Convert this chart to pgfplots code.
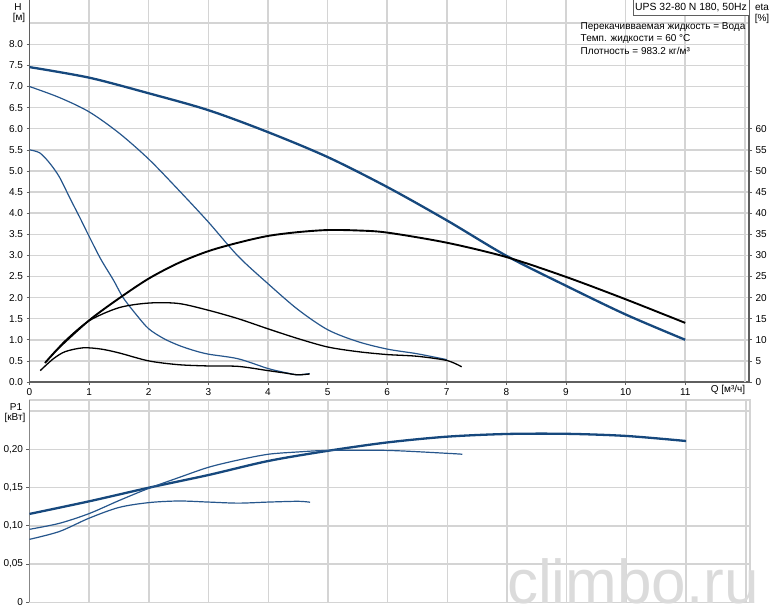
\documentclass[border=0pt]{standalone}
\usepackage{fontspec}
\setmainfont{Liberation Sans}
\usepackage{pgfplots}
\pgfplotsset{compat=1.18}

\definecolor{pumpblue}{RGB}{22,72,125}
\definecolor{thinblue}{RGB}{38,86,140}
\definecolor{gridgray}{RGB}{212,212,212}
\definecolor{spine}{RGB}{95,95,95}

\newcommand{\lbl}{\fontsize{10}{11}\selectfont}

\pgfplotsset{
  pump/.style={
    scale only axis,
    xmin=0, xmax=12.07,
    tick align=outside,
    major tick length=3pt,
    tick style={spine, line width=0.6pt},
    ticklabel style={font=\lbl},
    /pgf/number format/assume math mode=true,
    major grid style={gridgray, line width=1.5pt},
  },
}

\begin{document}
\begin{tikzpicture}
\path[use as bounding box] (0pt,0pt) rectangle (774pt,611pt);

% ---- H(Q) ----
\begin{axis}[pump,
  at={(29.5pt,229pt)}, anchor=south west,
  width=719.5pt, height=382pt,
  ymin=0, ymax=9.05,
  xtick={0,...,11}, extra x ticks={12}, extra x tick labels={},
  extra x tick style={grid=major, major tick length=0pt},
  ytick={0,0.5,...,8}, extra y ticks={8.5}, extra y tick labels={},
  extra y tick style={grid=major, major tick length=0pt},
  grid=major,
  axis x line*=bottom, axis y line*=left,
  axis line style={-, spine, line width=1.3pt},
  yticklabel style={/pgf/number format/.cd, fixed, fixed zerofill, precision=1},
]
\addplot[pumpblue, line width=2.3pt, smooth] coordinates {
  (0,7.46) (1,7.21) (2,6.84) (3,6.44) (4,5.92) (5,5.33) (6,4.62)
  (7,3.83) (8,2.99) (9,2.28) (10,1.60) (11,1.00)};
\addplot[thinblue, line width=1.2pt, smooth] coordinates {
  (0,7.00) (0.5,6.74) (1,6.40) (1.5,5.90) (2,5.28) (2.5,4.55) (3,3.79)
  (3.5,2.98) (4,2.33) (4.5,1.72) (5,1.24) (5.5,0.96) (6,0.78) (6.5,0.67) (7,0.53)};
\addplot[thinblue, line width=1.2pt, smooth] coordinates {
  (0,5.50) (0.17,5.43) (0.33,5.20) (0.5,4.86) (0.68,4.35) (0.85,3.88) (1,3.45)
  (1.2,2.90) (1.41,2.41) (1.57,2.00) (1.8,1.58) (2,1.26) (2.25,1.03) (2.5,0.87)
  (2.75,0.75) (3,0.66) (3.5,0.55) (4,0.32) (4.3,0.22) (4.5,0.17) (4.7,0.20)};
\end{axis}

% ---- eta(Q) ----
\begin{axis}[pump,
  at={(29.5pt,229pt)}, anchor=south west,
  width=719.5pt, height=382pt,
  ymin=0, ymax=90.5,
  axis x line=none, axis y line*=right,
  axis line style={-, spine, line width=1.3pt},
  ytick={0,5,...,60},
]
\addplot[black, line width=1.9pt, smooth] coordinates {
  (0.26,4.5) (0.5,8.2) (1,14.6) (1.5,19.8) (2,24.5) (2.5,28.2) (3,31.0)
  (3.5,33.0) (4,34.6) (4.5,35.5) (5,36.0) (5.5,35.9) (6,35.4) (7,33.0)
  (8,29.6) (9,24.9) (10,19.6) (11,14.0)};
\addplot[black, line width=1.3pt, smooth] coordinates {
  (0.36,6.0) (0.6,9.8) (1,14.5) (1.5,17.6) (2,18.7) (2.5,18.6) (3,17.0)
  (3.5,15.0) (4,12.6) (4.5,10.3) (5,8.3) (5.5,7.2) (6,6.5) (6.5,6.1)
  (7,5.1) (7.25,3.6)};
\addplot[black, line width=1.3pt, smooth] coordinates {
  (0.18,2.7) (0.4,5.5) (0.6,7.2) (0.9,8.1) (1.2,7.8) (1.5,6.9) (2,5.0)
  (2.5,4.1) (3,3.8) (3.5,3.7) (4,2.7) (4.3,2.1) (4.5,1.7) (4.7,1.9)};
\end{axis}

% ---- P1(Q) ----
\begin{axis}[pump,
  at={(29.5pt,8.7pt)}, anchor=south west,
  width=720.5pt, height=202.3pt,
  ymin=0, ymax=0.2644,
  xtick={0,...,12}, xticklabels={},
  x tick style={draw=none},
  ytick={0,0.05,0.10,0.15,0.20}, yticklabels={0,{0,05},{0,10},{0,15},{0,20}},
  extra y ticks={0.25}, extra y tick labels={},
  extra y tick style={grid=major, major tick length=0pt},
  ytick pos=left,
  grid=major,
  axis line style={gridgray, line width=1.3pt},
]
\draw[spine, line width=1.3pt] (rel axis cs:0,0) -- (rel axis cs:0,1);
\addplot[pumpblue, line width=2.3pt, smooth] coordinates {
  (0,0.1155) (1,0.132) (2,0.1498) (3,0.1664) (4,0.1847) (5,0.198) (6,0.209)
  (7,0.2165) (8,0.220) (9,0.2202) (10,0.2174) (11,0.2108)};
\addplot[thinblue, line width=1.2pt, smooth] coordinates {
  (0,0.0954) (0.5,0.1032) (1,0.116) (1.5,0.133) (2,0.149) (2.5,0.163) (3,0.1765)
  (3.5,0.186) (4,0.1935) (4.5,0.1965) (5,0.1985) (6,0.1985) (7,0.1947) (7.25,0.1935)};
\addplot[thinblue, line width=1.2pt, smooth] coordinates {
  (0,0.0823) (0.5,0.0925) (1,0.110) (1.5,0.124) (2,0.1303) (2.5,0.1324) (3,0.131)
  (3.5,0.1296) (4,0.131) (4.5,0.132) (4.7,0.1308)};
\end{axis}

% ---- labels ----
\node[font=\lbl] at (18pt,604pt) {H};
\node[font=\lbl] at (19pt,593pt) {[м]};
\node[font=\lbl] at (762pt,604pt) {eta};
\node[font=\lbl] at (762pt,592pt) {[\%]};
\node[font=\lbl] at (16pt,204pt) {P1};
\node[font=\lbl] at (15pt,193pt) {[кВт]};
\node[font=\lbl] at (728pt,221pt) {Q [м³/ч]};
\draw[spine, fill=white, line width=0.6pt] (633pt,595.3pt) rectangle (749pt,612pt);
\node[font=\fontsize{10.4}{11}\selectfont] at (691pt,603pt) {UPS 32-80 N 180, 50Hz};
\node[font=\lbl, anchor=west, inner sep=0pt] at (580.5pt,584pt) {Перекачивваемая жидкость = Вода};
\node[font=\lbl, anchor=west, inner sep=0pt] at (580.5pt,572pt) {Темп. жидкости = 60 °C};
\node[font=\lbl, anchor=west, inner sep=0pt] at (580.5pt,560pt) {Плотность = 983.2 кг/м³};
\node[font=\fontsize{62}{62}\selectfont, text=black!14, anchor=base west, inner sep=0pt] at (507pt,8pt) {climbo.ru};
\end{tikzpicture}
\end{document}
